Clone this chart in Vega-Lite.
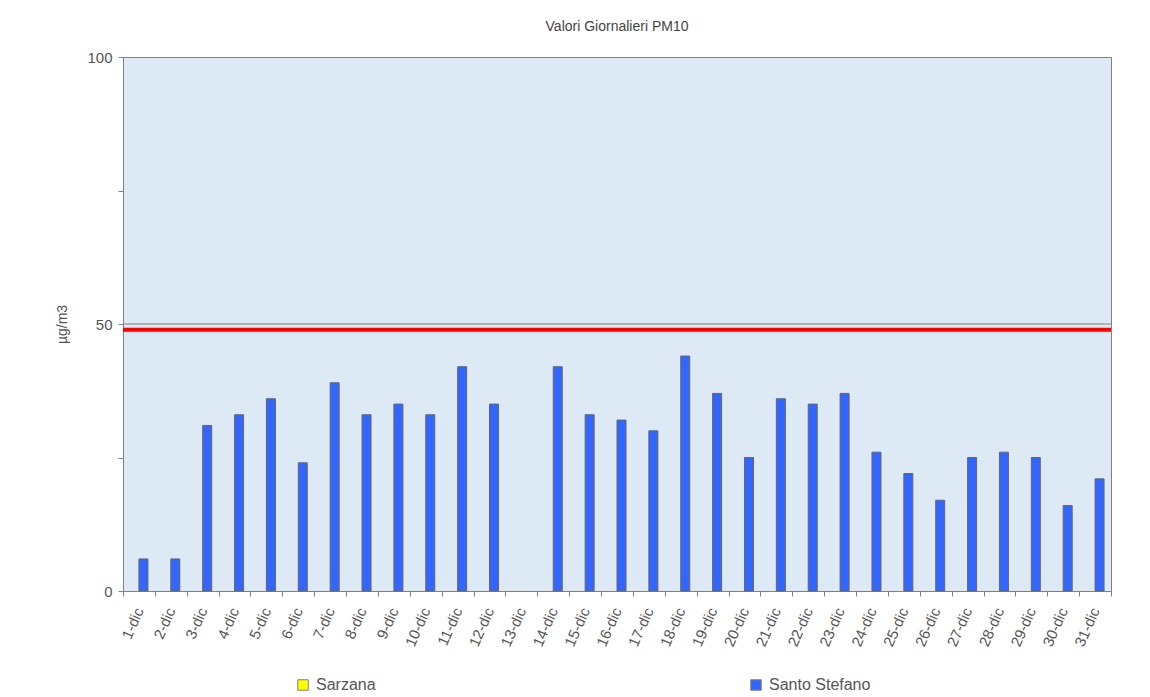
{
  "$schema": "https://vega.github.io/schema/vega-lite/v6.json",
  "autosize": {"type": "none"},
  "width": 988,
  "height": 534,
  "padding": {"left": 123, "top": 57, "right": 39, "bottom": 106},
  "background": "white",
  "title": {"text": "Valori Giornalieri PM10", "font": "Liberation Sans", "fontSize": 14, "fontWeight": "normal", "color": "#444444", "offset": 16, "anchor": "middle"},
  "config": {
    "view": {"fill": "#dde9f5", "stroke": "#808080", "strokeWidth": 1},
    "font": "Liberation Sans"
  },
  "datasets": {
    "pm10": [
      {"giorno": "1-dic", "stazione": "Sarzana", "valore": null}, {"giorno": "1-dic", "stazione": "Santo Stefano", "valore": 6},
      {"giorno": "2-dic", "stazione": "Sarzana", "valore": null}, {"giorno": "2-dic", "stazione": "Santo Stefano", "valore": 6},
      {"giorno": "3-dic", "stazione": "Sarzana", "valore": null}, {"giorno": "3-dic", "stazione": "Santo Stefano", "valore": 31},
      {"giorno": "4-dic", "stazione": "Sarzana", "valore": null}, {"giorno": "4-dic", "stazione": "Santo Stefano", "valore": 33},
      {"giorno": "5-dic", "stazione": "Sarzana", "valore": null}, {"giorno": "5-dic", "stazione": "Santo Stefano", "valore": 36},
      {"giorno": "6-dic", "stazione": "Sarzana", "valore": null}, {"giorno": "6-dic", "stazione": "Santo Stefano", "valore": 24},
      {"giorno": "7-dic", "stazione": "Sarzana", "valore": null}, {"giorno": "7-dic", "stazione": "Santo Stefano", "valore": 39},
      {"giorno": "8-dic", "stazione": "Sarzana", "valore": null}, {"giorno": "8-dic", "stazione": "Santo Stefano", "valore": 33},
      {"giorno": "9-dic", "stazione": "Sarzana", "valore": null}, {"giorno": "9-dic", "stazione": "Santo Stefano", "valore": 35},
      {"giorno": "10-dic", "stazione": "Sarzana", "valore": null}, {"giorno": "10-dic", "stazione": "Santo Stefano", "valore": 33},
      {"giorno": "11-dic", "stazione": "Sarzana", "valore": null}, {"giorno": "11-dic", "stazione": "Santo Stefano", "valore": 42},
      {"giorno": "12-dic", "stazione": "Sarzana", "valore": null}, {"giorno": "12-dic", "stazione": "Santo Stefano", "valore": 35},
      {"giorno": "13-dic", "stazione": "Sarzana", "valore": null}, {"giorno": "13-dic", "stazione": "Santo Stefano", "valore": null},
      {"giorno": "14-dic", "stazione": "Sarzana", "valore": null}, {"giorno": "14-dic", "stazione": "Santo Stefano", "valore": 42},
      {"giorno": "15-dic", "stazione": "Sarzana", "valore": null}, {"giorno": "15-dic", "stazione": "Santo Stefano", "valore": 33},
      {"giorno": "16-dic", "stazione": "Sarzana", "valore": null}, {"giorno": "16-dic", "stazione": "Santo Stefano", "valore": 32},
      {"giorno": "17-dic", "stazione": "Sarzana", "valore": null}, {"giorno": "17-dic", "stazione": "Santo Stefano", "valore": 30},
      {"giorno": "18-dic", "stazione": "Sarzana", "valore": null}, {"giorno": "18-dic", "stazione": "Santo Stefano", "valore": 44},
      {"giorno": "19-dic", "stazione": "Sarzana", "valore": null}, {"giorno": "19-dic", "stazione": "Santo Stefano", "valore": 37},
      {"giorno": "20-dic", "stazione": "Sarzana", "valore": null}, {"giorno": "20-dic", "stazione": "Santo Stefano", "valore": 25},
      {"giorno": "21-dic", "stazione": "Sarzana", "valore": null}, {"giorno": "21-dic", "stazione": "Santo Stefano", "valore": 36},
      {"giorno": "22-dic", "stazione": "Sarzana", "valore": null}, {"giorno": "22-dic", "stazione": "Santo Stefano", "valore": 35},
      {"giorno": "23-dic", "stazione": "Sarzana", "valore": null}, {"giorno": "23-dic", "stazione": "Santo Stefano", "valore": 37},
      {"giorno": "24-dic", "stazione": "Sarzana", "valore": null}, {"giorno": "24-dic", "stazione": "Santo Stefano", "valore": 26},
      {"giorno": "25-dic", "stazione": "Sarzana", "valore": null}, {"giorno": "25-dic", "stazione": "Santo Stefano", "valore": 22},
      {"giorno": "26-dic", "stazione": "Sarzana", "valore": null}, {"giorno": "26-dic", "stazione": "Santo Stefano", "valore": 17},
      {"giorno": "27-dic", "stazione": "Sarzana", "valore": null}, {"giorno": "27-dic", "stazione": "Santo Stefano", "valore": 25},
      {"giorno": "28-dic", "stazione": "Sarzana", "valore": null}, {"giorno": "28-dic", "stazione": "Santo Stefano", "valore": 26},
      {"giorno": "29-dic", "stazione": "Sarzana", "valore": null}, {"giorno": "29-dic", "stazione": "Santo Stefano", "valore": 25},
      {"giorno": "30-dic", "stazione": "Sarzana", "valore": null}, {"giorno": "30-dic", "stazione": "Santo Stefano", "valore": 16},
      {"giorno": "31-dic", "stazione": "Sarzana", "valore": null}, {"giorno": "31-dic", "stazione": "Santo Stefano", "valore": 21}
    ],
    "soglie": [
      {"tipo": "griglia", "livello": 50},
      {"tipo": "limite", "livello": 48.9}
    ]
  },
  "layer": [
    {
      "data": {"name": "soglie"},
      "transform": [{"filter": "datum.tipo == 'griglia'"}],
      "mark": {"type": "rule", "color": "#808080", "strokeWidth": 1},
      "encoding": {"y": {"field": "livello", "type": "quantitative", "scale": {"domain": [0, 100]}}}
    },
    {
      "data": {"name": "pm10"},
      "mark": {"type": "bar", "stroke": "#666666", "strokeWidth": 1},
      "encoding": {
        "x": {
          "field": "giorno", "type": "nominal", "sort": null,
          "scale": {"paddingInner": 0, "paddingOuter": 0, "domain": ["1-dic","2-dic","3-dic","4-dic","5-dic","6-dic","7-dic","8-dic","9-dic","10-dic","11-dic","12-dic","13-dic","14-dic","15-dic","16-dic","17-dic","18-dic","19-dic","20-dic","21-dic","22-dic","23-dic","24-dic","25-dic","26-dic","27-dic","28-dic","29-dic","30-dic","31-dic"]},
          "axis": {
            "title": null, "tickBand": "extent", "domainColor": "#808080", "tickColor": "#808080", "tickSize": 5,
            "labelAngle": -66, "labelAlign": "right", "labelBaseline": "middle", "labelPadding": 12,
            "labelFont": "Liberation Sans", "labelFontSize": 15, "labelColor": "#555555"
          }
        },
        "xOffset": {"field": "stazione", "type": "nominal", "scale": {"domain": ["Sarzana", "Santo Stefano"], "paddingInner": 0, "paddingOuter": 0.77}},
        "y": {
          "field": "valore", "type": "quantitative", "scale": {"domain": [0, 100]},
          "axis": {
            "title": "µg/m3", "titleFont": "Liberation Sans", "titleFontSize": 14, "titleFontWeight": "normal", "titleColor": "#555555", "titlePadding": 17,
            "values": [0, 25, 50, 75, 100], "labelExpr": "datum.value % 50 == 0 ? datum.label : ''",
            "grid": false, "domainColor": "#808080", "tickColor": "#808080", "tickSize": 5, "labelPadding": 6,
            "labelFont": "Liberation Sans", "labelFontSize": 15, "labelColor": "#555555"
          }
        },
        "color": {
          "field": "stazione", "type": "nominal",
          "scale": {"domain": ["Sarzana", "Santo Stefano"], "range": ["#ffff00", "#3366ff"]},
          "legend": {
            "title": null, "orient": "none", "direction": "horizontal", "legendX": 172, "legendY": 620,
            "symbolType": "square", "symbolSize": 110, "symbolStrokeColor": "#808080", "symbolStrokeWidth": 1, "symbolOpacity": 1,
            "labelFont": "Liberation Sans", "labelFontSize": 16, "labelColor": "#555555", "labelOffset": 5,
            "columnPadding": 372
          }
        }
      }
    },
    {
      "data": {"name": "soglie"},
      "transform": [{"filter": "datum.tipo == 'limite'"}],
      "mark": {"type": "rule", "color": "#ff0000", "strokeWidth": 4},
      "encoding": {"y": {"field": "livello", "type": "quantitative"}}
    }
  ]
}
